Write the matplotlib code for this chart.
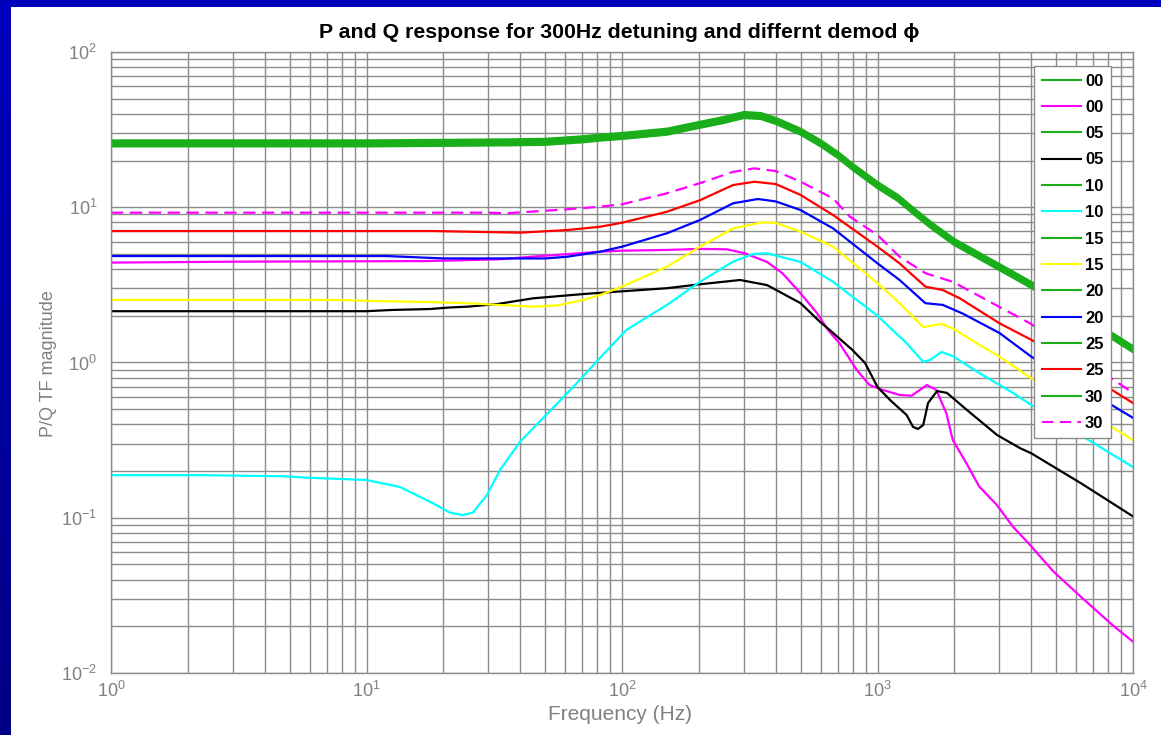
import numpy as np
import matplotlib
matplotlib.use("Agg")
import matplotlib.pyplot as plt
from matplotlib.lines import Line2D
from matplotlib.patches import Rectangle
from matplotlib.ticker import LogLocator, NullFormatter, LogFormatterSciNotation

plt.rcParams['font.family'] = ['Liberation Sans', 'DejaVu Sans']
plt.rcParams['mathtext.fontset'] = 'custom'
plt.rcParams['mathtext.rm'] = 'Liberation Sans'
plt.rcParams['mathtext.it'] = 'Liberation Sans:italic'
plt.rcParams['mathtext.bf'] = 'Liberation Sans:bold'

TITLE = "P and Q response for 300Hz detuning and differnt demod \u03d5"
X_LABEL = "Frequency (Hz)"
Y_LABEL = "P/Q TF magnitude"
phases = ["00", "05", "10", "15", "20", "25", "30"]

# ---- P response (all demod phases nearly identical) ----
f_p = [1, 10, 20, 36, 50, 70, 82, 100, 150, 200, 250, 300, 350, 400, 500, 600,
       700, 800, 1000, 1200, 1400, 1600, 1700, 2000, 3000, 4000, 10000]
mag_p = [25.8, 25.8, 26.0, 26.2, 26.4, 27.4, 28.1, 28.8, 30.7, 33.9, 36.5, 39.3,
         38.7, 36.0, 30.7, 25.8, 21.7, 18.2, 13.9, 11.5, 9.31, 7.80, 7.24, 5.97,
         4.12, 3.16, 1.22]
# small spread between the seven P traces
p_gain = [0.962, 0.975, 0.987, 1.000, 1.013, 1.025, 1.038]

# ---- Q response per demod phase ----
f_q00 = [1, 3, 17, 23, 33, 48, 82, 100, 150, 202, 257, 303, 370, 425, 500, 580,
         640, 710, 830, 930, 1050, 1220, 1360, 1560, 1700, 1860, 1970, 2230, 2500,
         2930, 3390, 3850, 4890, 6250, 8300, 10000]
q00 = [4.40, 4.46, 4.50, 4.55, 4.62, 4.85, 5.17, 5.25, 5.31, 5.39, 5.36, 5.05,
       4.44, 3.75, 2.79, 2.08, 1.62, 1.33, 0.895, 0.716, 0.665, 0.618, 0.611,
       0.716, 0.665, 0.471, 0.317, 0.224, 0.159, 0.121, 0.0875, 0.0701, 0.0449,
       0.0310, 0.0204, 0.0159]

f_q05 = [1, 10, 12.6, 17.7, 21, 25, 32.5, 44.8, 70.5, 95.6, 150, 202, 290, 370,
         500, 595, 650, 795, 894, 1000, 1120, 1300, 1377, 1440, 1510, 1577, 1710,
         1870, 2240, 2940, 3610, 4000, 6250, 10000]
q05 = [2.14, 2.14, 2.18, 2.21, 2.26, 2.29, 2.38, 2.59, 2.76, 2.86, 3.01, 3.19,
       3.40, 3.15, 2.41, 1.83, 1.62, 1.21, 0.993, 0.695, 0.573, 0.459, 0.385,
       0.373, 0.396, 0.548, 0.655, 0.637, 0.494, 0.341, 0.281, 0.260, 0.167, 0.102]

f_q10 = [1, 2.33, 4.7, 6.0, 10, 13.5, 18.2, 21.2, 23.8, 26.1, 29.6, 33.3, 39.9,
         50, 65.5, 82, 104, 150, 202, 272, 326, 370, 500, 670, 1000, 1300, 1510,
         1610, 1780, 1970, 2500, 3390, 4000, 10000]
q10 = [0.188, 0.188, 0.185, 0.181, 0.175, 0.158, 0.124, 0.108, 0.104, 0.108,
       0.140, 0.203, 0.309, 0.452, 0.716, 1.07, 1.62, 2.35, 3.31, 4.46, 5.00,
       5.05, 4.44, 3.31, 2.00, 1.33, 1.01, 1.04, 1.17, 1.10, 0.855, 0.637, 0.532,
       0.212]

f_q15 = [1, 7.4, 10.6, 17.7, 25, 32.5, 44.8, 55.7, 70.5, 82, 100, 150, 202, 272,
         354, 400, 500, 670, 1000, 1220, 1510, 1780, 1970, 2500, 2930, 4000, 10000]
q15 = [2.53, 2.53, 2.49, 2.45, 2.41, 2.35, 2.29, 2.33, 2.53, 2.72, 3.08, 4.14,
       5.57, 7.31, 8.00, 7.93, 6.96, 5.57, 3.24, 2.41, 1.69, 1.77, 1.66, 1.30,
       1.12, 0.791, 0.317]

f_q20 = [1, 12, 20, 50, 61, 82, 100, 150, 202, 272, 340, 400, 500, 670, 1000,
         1220, 1540, 1800, 2150, 3000, 4000, 10000]
q20 = [4.85, 4.85, 4.68, 4.68, 4.80, 5.17, 5.57, 6.80, 8.28, 10.6, 11.3, 10.9,
       9.59, 7.31, 4.35, 3.40, 2.41, 2.35, 2.07, 1.55, 1.09, 0.44]

f_q25 = [1, 18, 40, 61, 82, 100, 150, 202, 272, 330, 400, 500, 670, 1000, 1220,
         1540, 1800, 2100, 3000, 4000, 10000]
q25 = [7.03, 7.03, 6.86, 7.13, 7.49, 7.95, 9.36, 11.1, 13.9, 14.6, 14.1, 12.0,
       8.91, 5.57, 4.35, 3.08, 2.93, 2.59, 1.79, 1.40, 0.548]

f_q30 = [1, 10, 30, 35, 61, 82, 100, 150, 202, 272, 330, 400, 500, 670, 780,
         1000, 1220, 1540, 1970, 3000, 3950, 10000]
q30 = [9.23, 9.23, 9.23, 9.14, 9.70, 10.08, 10.45, 12.3, 14.3, 16.9, 17.8, 17.1,
       14.6, 11.4, 8.69, 6.63, 4.80, 3.76, 3.31, 2.28, 1.79, 0.637]

q_freqs = [f_q00, f_q05, f_q10, f_q15, f_q20, f_q25, f_q30]
q_mags = [q00, q05, q10, q15, q20, q25, q30]
q_colors = ["#ff00ff", "#000000", "#00ffff", "#ffff00", "#0000ff", "#ff0000", "#ff00ff"]
q_styles = ["-", "-", "-", "-", "-", "-", (0, (5.5, 3))]
P_GREEN = "#1aaf1a"
GRID = "#8c8c8c"
TEXT_GRAY = "#808080"

W, H = 1161, 735
fig = plt.figure(figsize=(W / 100, H / 100), dpi=100)

# blue frame behind a white page
bg = fig.add_axes([0, 0, 1, 1], zorder=-10)
shade = np.linspace(0.74, 0.52, 256)
img = np.zeros((256, 1, 3))
img[:, 0, 2] = shade
bg.imshow(img, aspect="auto", extent=[0, 1, 0, 1], origin="upper")
bg.add_patch(Rectangle((11 / W, 0), 1 - 11 / W, 1 - 7 / H, facecolor="white",
                       edgecolor="none"))
bg.set_xlim(0, 1)
bg.set_ylim(0, 1)
bg.axis("off")

left, right, top, bottom = 111, 1133, 52, 673
ax = fig.add_axes([left / W, 1 - bottom / H, (right - left) / W, (bottom - top) / H])
ax.set_xscale("log")
ax.set_yscale("log")
ax.set_xlim(1, 1e4)
ax.set_ylim(1e-2, 1e2)

handles, labels = [], []
for i, ph in enumerate(phases):
    pm = [m * p_gain[i] for m in mag_p]
    ax.plot(f_p, pm, color=P_GREEN, lw=2.2, solid_joinstyle="round")
    ax.plot(q_freqs[i], q_mags[i], color=q_colors[i], lw=1.6, linestyle=q_styles[i])
    handles.append(Line2D([], [], color=P_GREEN, lw=1.5))
    labels.append(ph)
    handles.append(Line2D([], [], color=q_colors[i], lw=1.5, linestyle=q_styles[i]))
    labels.append(ph)

for axis in (ax.xaxis, ax.yaxis):
    axis.set_major_locator(LogLocator(base=10, numticks=10))
    axis.set_minor_locator(LogLocator(base=10, subs=np.arange(2, 10), numticks=20))
    axis.set_minor_formatter(NullFormatter())
    axis.set_major_formatter(LogFormatterSciNotation())

ax.grid(which="both", color=GRID, lw=1.0)
ax.set_axisbelow(True)
for s in ax.spines.values():
    s.set_color(GRID)
    s.set_linewidth(1.0)
ax.tick_params(which="both", length=0, labelcolor=TEXT_GRAY, labelsize=13)
ax.tick_params(axis="x", pad=6)
ax.tick_params(axis="y", pad=10)

leg = ax.legend(handles, labels, loc="upper right",
                bbox_to_anchor=((1111 - left) / (right - left), (bottom - 66) / (bottom - top)),
                borderaxespad=0, fancybox=False, framealpha=1, edgecolor=GRID,
                prop={"weight": "bold", "size": 12}, handlelength=2.35,
                handletextpad=0.25, labelspacing=0.68, borderpad=0.45)
leg.get_frame().set_linewidth(1.0)

fig.text(619 / W, 1 - 33 / H, TITLE, ha="center", va="center", fontsize=15.3,
         fontweight="bold", color="black", family=["Liberation Sans", "DejaVu Sans"])
fig.text(620 / W, 1 - 714 / H, X_LABEL, ha="center", va="center", fontsize=15,
         color=TEXT_GRAY)
fig.text(49 / W, 1 - 364 / H, Y_LABEL, ha="center", va="center", fontsize=13,
         color=TEXT_GRAY, rotation=90)

fig.savefig("out.png", dpi=100)
